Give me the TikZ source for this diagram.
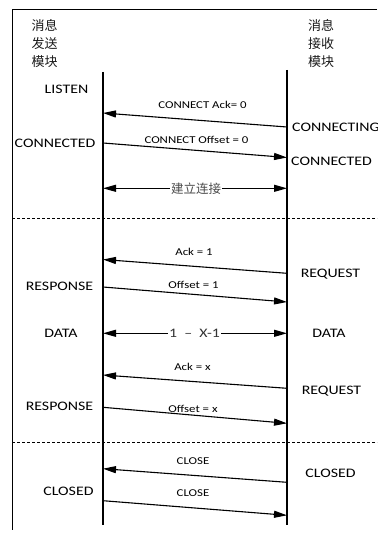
\documentclass[tikz,border=0pt]{standalone}
\usepackage{fontspec}
\setmainfont[FakeStretch=1.22]{Carlito}
\newfontfamily\cjk{Noto Sans CJK SC}
\usetikzlibrary{arrows.meta}
\begin{document}
\begin{tikzpicture}[x=1pt,y=-1pt,
  state/.style={font=\fontsize{13}{15}\selectfont, inner sep=0pt},
  msg/.style={font=\fontsize{10.5}{12}\selectfont, inner sep=0pt},
  head/.style={font=\cjk\fontsize{13}{18}\selectfont, align=center, inner sep=0pt, text=black!90},
  life/.style={line width=1.8pt},
  arr/.style={line width=1.1pt, -{Triangle[length=13pt,width=7pt]}},
  darr/.style={line width=1.1pt, {Triangle[length=13pt,width=7pt]}-{Triangle[length=13pt,width=7pt]}},
  sepline/.style={line width=0.8pt, dash pattern=on 3pt off 2pt},
  framel/.style={line width=0.8pt},
  midlbl/.style={fill=white, inner sep=1pt}]
\useasboundingbox (0,0) rectangle (377,540);

% frame
\coordinate (ftr) at (377,9);
\coordinate (ftl) at (12,9);
\coordinate (fbl) at (12,530);
\draw[framel] (ftr) -- (ftl) -- (fbl);

% headers
\node[head] (hs) at (44.5,43.5) {消息\\发送\\模块};
\node[head] (hr) at (321,43.5) {消息\\接收\\模块};

% lifelines
\coordinate (Lt) at (103,72);
\coordinate (Lb) at (103,525);
\coordinate (Rt) at (287,70);
\coordinate (Rb) at (287,525);
\draw[life] (Lt) -- (Lb);
\draw[life] (Rt) -- (Rb);

% separators
\coordinate (s1l) at (12,218.3);
\coordinate (s1r) at (377,218.3);
\coordinate (s2l) at (12,442.3);
\coordinate (s2r) at (377,442.3);
\draw[sepline] (s1l) -- (s1r);
\draw[sepline] (s2l) -- (s2r);

% states
\node[state] (listen) at (66.5,89) {LISTEN};
\node[state, anchor=west] (connecting) at (292,127) {CONNECTING};
\node[state] (connL) at (55,143.5) {CONNECTED};
\node[state] (connR) at (331.5,161.5) {CONNECTED};
\node[state] (req1) at (330.5,274) {REQUEST};
\node[state] (resp1) at (59.5,286.5) {RESPONSE};
\node[state] (dataL) at (61,333) {DATA};
\node[state] (dataR) at (329,333) {DATA};
\node[state] (req2) at (331.5,391) {REQUEST};
\node[state] (resp2) at (59.5,406) {RESPONSE};
\node[state] (closedR) at (330.5,473) {CLOSED};
\node[state] (closedL) at (68.5,491) {CLOSED};

% message end points
\coordinate (m1r) at (287,127);   \coordinate (m1l) at (103,113);
\coordinate (m2l) at (103,143);   \coordinate (m2r) at (287,157.5);
\coordinate (d1l) at (103,188.3); \coordinate (d1r) at (287,188.3);
\coordinate (m3r) at (287,273.3); \coordinate (m3l) at (103,259.5);
\coordinate (m4l) at (103,287);   \coordinate (m4r) at (287,302);
\coordinate (d2l) at (103,333.3); \coordinate (d2r) at (287,333.3);
\coordinate (m5r) at (287,388.3); \coordinate (m5l) at (103,375);
\coordinate (m6l) at (103,407.3); \coordinate (m6r) at (287,423.3);
\coordinate (m7r) at (287,482.3); \coordinate (m7l) at (103,468.7);
\coordinate (m8l) at (103,500.7); \coordinate (m8r) at (287,515.3);

\draw[arr] (m1r) -- (m1l);
\draw[arr] (m2l) -- (m2r);
\draw[darr] (d1l) -- (d1r);
\draw[arr] (m3r) -- (m3l);
\draw[arr] (m4l) -- (m4r);
\draw[darr] (d2l) -- (d2r);
\draw[arr] (m5r) -- (m5l);
\draw[arr] (m6l) -- (m6r);
\draw[arr] (m7r) -- (m7l);
\draw[arr] (m8l) -- (m8r);

% message labels
\node[msg] (l1) at (202.5,105) {CONNECT Ack= 0};
\node[msg] (l2) at (196.5,140) {CONNECT Offset = 0};
\node[midlbl, font=\cjk\fontsize{12.5}{14}\selectfont, text=black!70] (l3) at (196,188.3) {建立连接};
\node[msg] (l4) at (194,252) {Ack = 1};
\node[msg] (l5) at (193.5,285) {Offset = 1};
\node[midlbl, font=\fontsize{13}{15}\selectfont, text=black!80] (l6) at (194.5,333.3) {1 ~–~ X-1};
\node[msg] (l7) at (192.5,367) {Ack = x};
\node[msg] (l8) at (193,408.5) {Offset = x};
\node[msg] (l9) at (193,461.5) {CLOSE};
\node[msg] (l10) at (193,493.5) {CLOSE};
\end{tikzpicture}
\end{document}
